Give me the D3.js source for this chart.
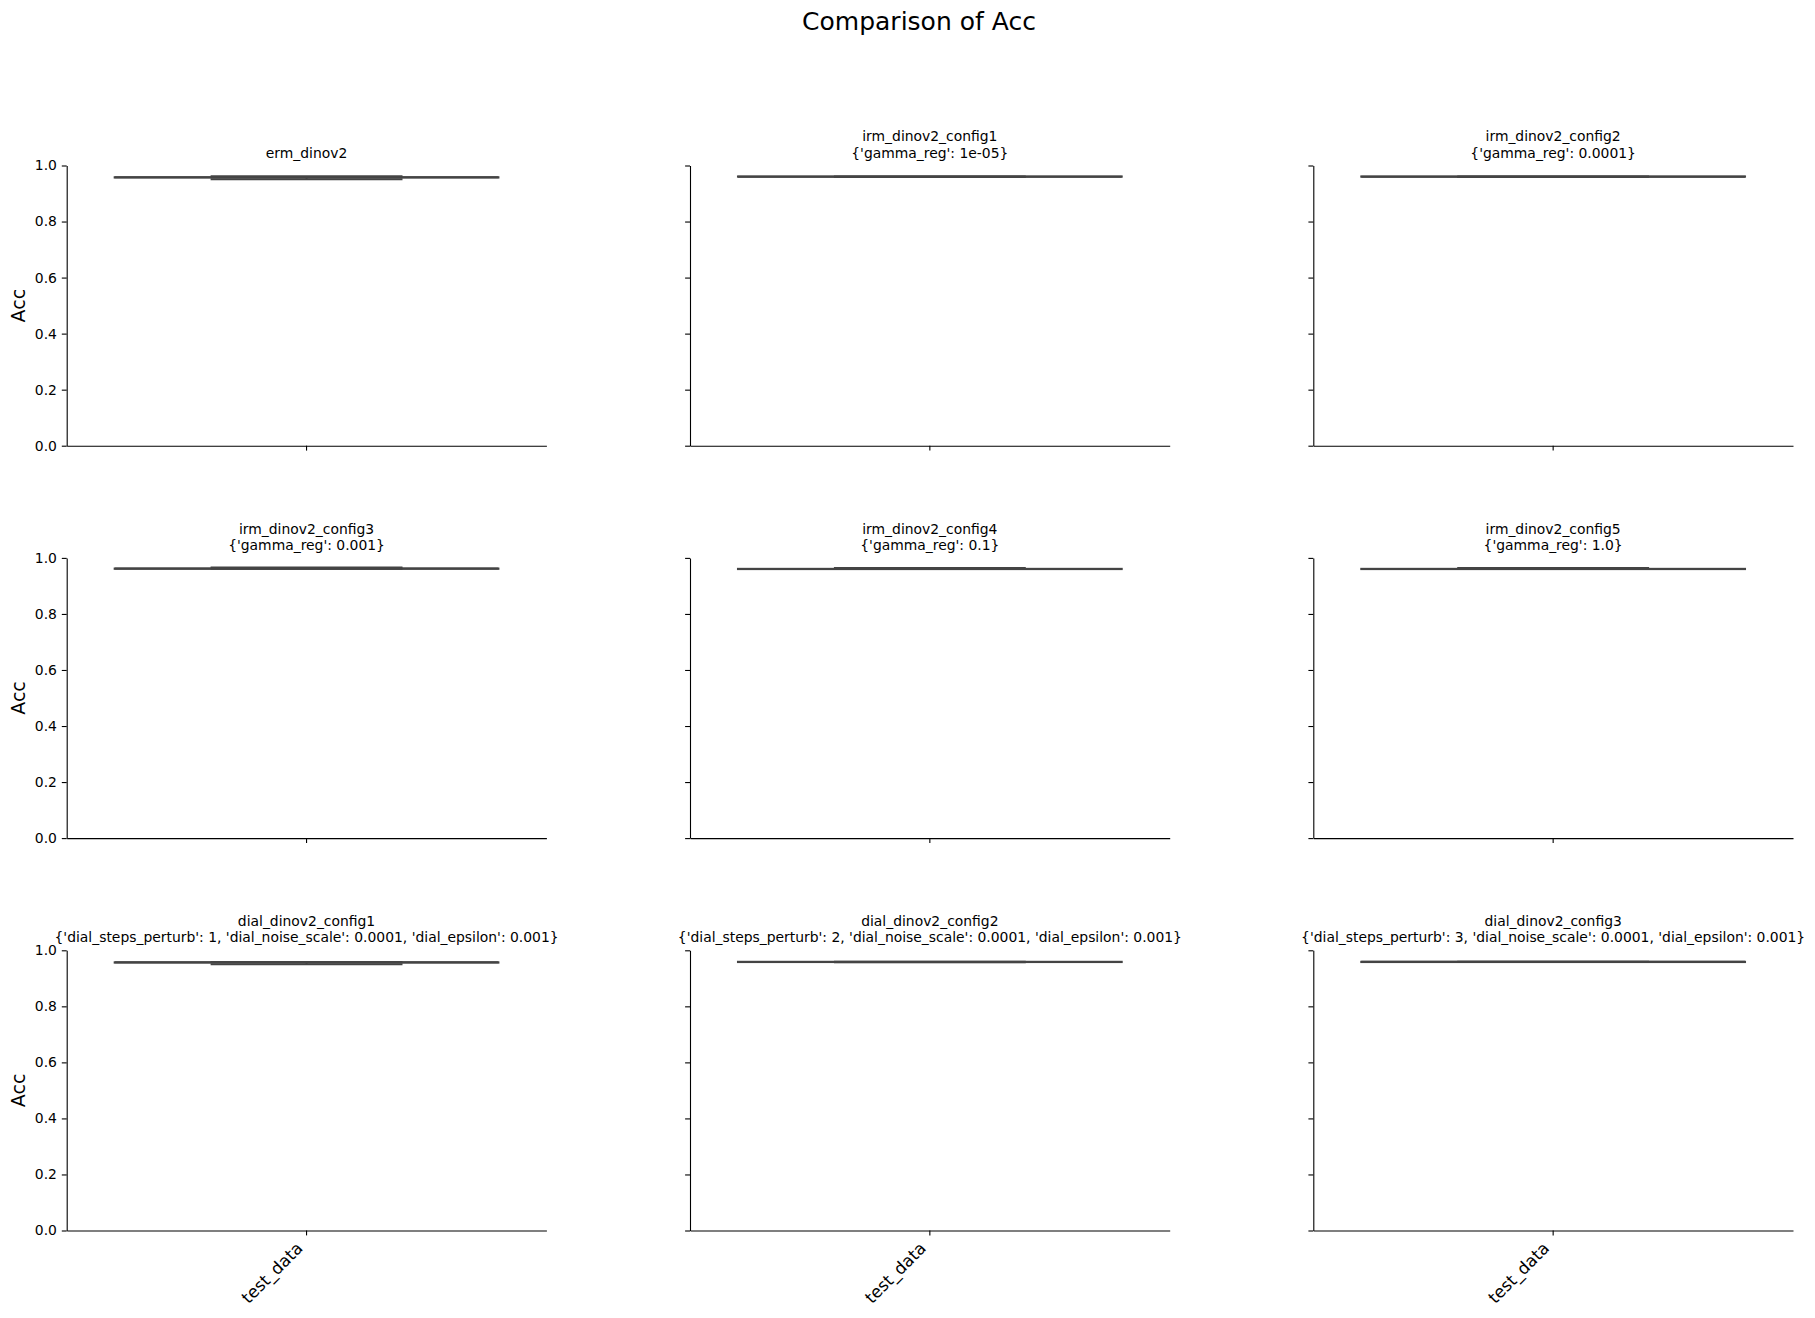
<!DOCTYPE html>
<html>
<head>
<meta charset="utf-8">
<script src="https://cdn.jsdelivr.net/npm/d3@7"></script>
<style>
  html, body { margin: 0; padding: 0; background: #fff; }
  svg { display: block; font-family: "DejaVu Sans", sans-serif; }
</style>
</head>
<body>
<svg id="chart" width="1815" height="1318"></svg>
<script>
// ---- data ----
const suptitle = "Comparison of Acc";
const yLabel = "Acc";
const categories = ["test_data"];
const panelNames = [
  "erm_dinov2",
  "irm_dinov2_config1", "irm_dinov2_config2",
  "irm_dinov2_config3", "irm_dinov2_config4", "irm_dinov2_config5",
  "dial_dinov2_config1", "dial_dinov2_config2", "dial_dinov2_config3"
];
const panelParams = [
  "",
  "{'gamma_reg': 1e-05}", "{'gamma_reg': 0.0001}",
  "{'gamma_reg': 0.001}", "{'gamma_reg': 0.1}", "{'gamma_reg': 1.0}",
  "{'dial_steps_perturb': 1, 'dial_noise_scale': 0.0001, 'dial_epsilon': 0.001}",
  "{'dial_steps_perturb': 2, 'dial_noise_scale': 0.0001, 'dial_epsilon': 0.001}",
  "{'dial_steps_perturb': 3, 'dial_noise_scale': 0.0001, 'dial_epsilon': 0.001}"
];
const whiskerLow  = [0.951, 0.959, 0.959, 0.961, 0.960, 0.960, 0.950, 0.957, 0.958];
const q1Values    = [0.957, 0.960, 0.960, 0.961, 0.960, 0.960, 0.956, 0.958, 0.958];
const medianValues= [0.958, 0.960, 0.960, 0.962, 0.960, 0.960, 0.957, 0.958, 0.959];
const q3Values    = [0.958, 0.961, 0.961, 0.962, 0.961, 0.961, 0.957, 0.959, 0.959];
const whiskerHigh = [0.962, 0.961, 0.961, 0.966, 0.964, 0.964, 0.958, 0.959, 0.959];
const yTicks = [0, 0.2, 0.4, 0.6, 0.8, 1.0];

// ---- layout ----
const svg = d3.select("#chart");
const colLefts = [66.7, 690.0, 1313.3];
const rowTops = [165.5, 557.9, 950.3];
const pw = 479.7, ph = 280.2;
const lineColor = "#444444";
const boxFill = "#3274a1";
const lw = 2;

svg.append("text")
  .attr("x", 919).attr("y", 30)
  .attr("text-anchor", "middle")
  .attr("font-size", "25px")
  .attr("fill", "#000")
  .text(suptitle);

const y = d3.scaleLinear().domain([0, 1]).range([ph, 0]);
const x = d3.scaleBand().domain(categories).range([0, pw]).paddingInner(0).paddingOuter(0);

panelNames.forEach((name, i) => {
  const r = Math.floor(i / 3), c = i % 3;
  const g = svg.append("g").attr("transform", `translate(${colLefts[c]},${rowTops[r]})`);

  // y axis
  const yAxis = d3.axisLeft(y).tickValues(yTicks).tickSize(4.9).tickSizeOuter(0).tickPadding(4.9)
    .tickFormat(c === 0 ? d3.format(".1f") : () => "");
  const ya = g.append("g").call(yAxis);
  ya.select(".domain").attr("stroke", "#000").attr("stroke-width", 1.1);
  ya.selectAll(".tick line").attr("stroke", "#000").attr("stroke-width", 1.1);
  ya.selectAll(".tick text").attr("font-size", "13.9px").attr("fill", "#000")
    .attr("font-family", "DejaVu Sans, sans-serif");

  // x axis
  const xAxis = d3.axisBottom(x).tickSize(4.9).tickSizeOuter(0).tickPadding(4.9)
    .tickFormat(() => "");
  const xa = g.append("g").attr("transform", `translate(0,${ph})`).call(xAxis);
  xa.select(".domain").attr("stroke", "#000").attr("stroke-width", 1.1);
  xa.selectAll(".tick line").attr("stroke", "#000").attr("stroke-width", 1.1);
  if (r === 2) {
    categories.forEach(cat => {
      const tx = x(cat) + x.bandwidth() / 2;
      g.append("text")
        .attr("transform", `translate(${tx - 2.8},${ph + 9.8 + 9.0}) rotate(-45)`)
        .attr("text-anchor", "end")
        .attr("font-size", "16.7px")
        .attr("fill", "#000")
        .text(cat);
    });
  }

  // y label
  if (c === 0) {
    g.append("text")
      .attr("transform", `translate(${25 - colLefts[0]},${ph / 2}) rotate(-90)`)
      .attr("text-anchor", "middle")
      .attr("font-size", "19px")
      .attr("fill", "#000")
      .text(yLabel);
  }

  // title
  const lines = panelParams[i] ? [name, panelParams[i]] : [name];
  const lastBase = -7.9;
  lines.forEach((t, k) => {
    g.append("text")
      .attr("x", pw / 2)
      .attr("y", lastBase - (lines.length - 1 - k) * 16.4)
      .attr("text-anchor", "middle")
      .attr("font-size", "13.9px")
      .attr("fill", "#000")
      .text(t);
  });

  // box plot
  categories.forEach(cat => {
    const cx = x(cat) + x.bandwidth() / 2;
    const bw = x.bandwidth() * 0.8;
    const capW = bw * 0.5;
    const bg = g.append("g");
    // whiskers
    bg.append("line").attr("x1", cx).attr("x2", cx)
      .attr("y1", y(q1Values[i])).attr("y2", y(whiskerLow[i]))
      .attr("stroke", lineColor).attr("stroke-width", lw);
    bg.append("line").attr("x1", cx).attr("x2", cx)
      .attr("y1", y(q3Values[i])).attr("y2", y(whiskerHigh[i]))
      .attr("stroke", lineColor).attr("stroke-width", lw);
    // caps
    [whiskerLow[i], whiskerHigh[i]].forEach(v => {
      bg.append("line").attr("x1", cx - capW / 2).attr("x2", cx + capW / 2)
        .attr("y1", y(v)).attr("y2", y(v))
        .attr("stroke", lineColor).attr("stroke-width", lw);
    });
    // box
    bg.append("rect")
      .attr("x", cx - bw / 2).attr("width", bw)
      .attr("y", y(q3Values[i])).attr("height", Math.max(0, y(q1Values[i]) - y(q3Values[i])))
      .attr("fill", boxFill).attr("stroke", lineColor).attr("stroke-width", lw);
    // median
    bg.append("line").attr("x1", cx - bw / 2).attr("x2", cx + bw / 2)
      .attr("y1", y(medianValues[i])).attr("y2", y(medianValues[i]))
      .attr("stroke", lineColor).attr("stroke-width", lw);
  });
});
</script>
</body>
</html>
